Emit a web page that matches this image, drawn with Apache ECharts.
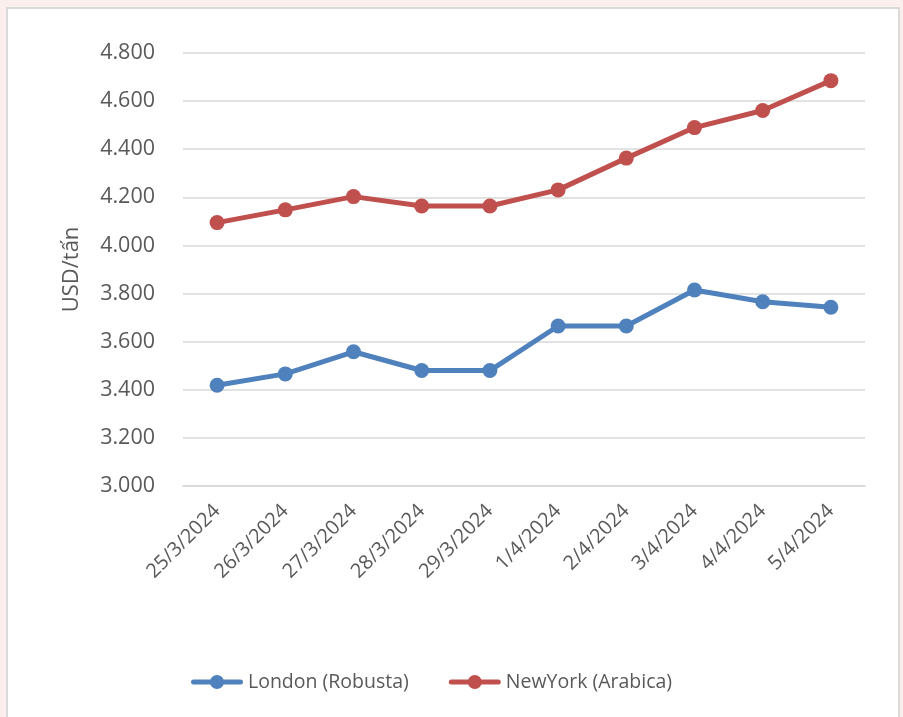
<!DOCTYPE html>
<html>
<head>
<meta charset="utf-8">
<script src="https://cdn.jsdelivr.net/npm/echarts@6/dist/echarts.min.js"></script>
<style>
  html, body { margin: 0; padding: 0; background: #fbefee; width: 903px; height: 717px; overflow: hidden; }
  #panel { position: absolute; left: 6px; top: 7px; width: 890px; height: 730px; background: #ffffff; border: 2px solid #dadada; }
  #chart { position: absolute; left: 0; top: 0; width: 903px; height: 717px; }
</style>
</head>
<body>
<div id="panel"></div>
<div id="chart"></div>
<script>
const categories = ['25/3/2024', '26/3/2024', '27/3/2024', '28/3/2024', '29/3/2024', '1/4/2024', '2/4/2024', '3/4/2024', '4/4/2024', '5/4/2024'];
const londonRobusta = [3419, 3466, 3558, 3480, 3480, 3665, 3665, 3815, 3766, 3743];
const newYorkArabica = [4095, 4148, 4203, 4164, 4164, 4231, 4363, 4490, 4561, 4685];
const seriesNames = ['London (Robusta)', 'NewYork (Arabica)'];
const yTicks = { min: 3000, max: 4800, interval: 200 };
const yAxisName = 'USD/tấn';

const legendIcon = 'path://M2.5,4.5 L49.5,4.5 A2.5,2.5 0 0 1 49.5,9.5 L2.5,9.5 A2.5,2.5 0 0 1 2.5,4.5 Z M26,0 A7,7 0 0 1 26,14 A7,7 0 0 1 26,0 Z';

const chart = echarts.init(document.getElementById('chart'), null, { renderer: 'canvas' });
const font = '"Open Sans", sans-serif';
chart.setOption({
  backgroundColor: 'transparent',
  animation: false,
  color: ['#4f81bd', '#c0504d'],
  grid: { left: 183, right: 38, top: 53, bottom: 231, containLabel: false },
  legend: {
    left: 186,
    bottom: 20,
    itemWidth: 52,
    itemHeight: 14,
    itemGap: 40,
    textStyle: { fontFamily: font, fontSize: 19.5, color: '#595959' },
    data: [
      { name: seriesNames[0], icon: legendIcon, itemStyle: { color: '#4f81bd' } },
      { name: seriesNames[1], icon: legendIcon, itemStyle: { color: '#c0504d' } }
    ]
  },
  xAxis: {
    type: 'category',
    data: categories,
    boundaryGap: true,
    axisLine: { show: true, lineStyle: { color: '#d9d9d9', width: 1.5 } },
    axisTick: { show: false },
    axisLabel: { rotate: 45, interval: 0, margin: 22, fontFamily: font, fontSize: 20, color: '#595959' }
  },
  yAxis: {
    type: 'value',
    min: yTicks.min,
    max: yTicks.max,
    interval: yTicks.interval,
    name: yAxisName,
    nameLocation: 'middle',
    nameGap: 100,
    nameTextStyle: { fontFamily: font, fontSize: 22, color: '#595959' },
    axisLine: { show: false },
    axisTick: { show: false },
    splitLine: { lineStyle: { color: '#d9d9d9', width: 1.5 } },
    axisLabel: {
      margin: 28,
      fontFamily: font, fontSize: 21.5, color: '#595959',
      formatter: v => (v / 1000).toFixed(3)
    }
  },
  series: [
    {
      name: seriesNames[0], type: 'line', data: londonRobusta,
      symbol: 'circle', symbolSize: 15,
      lineStyle: { width: 5 }, itemStyle: { color: '#4f81bd' }
    },
    {
      name: seriesNames[1], type: 'line', data: newYorkArabica,
      symbol: 'circle', symbolSize: 15,
      lineStyle: { width: 5 }, itemStyle: { color: '#c0504d' }
    }
  ]
});
</script>
</body>
</html>
